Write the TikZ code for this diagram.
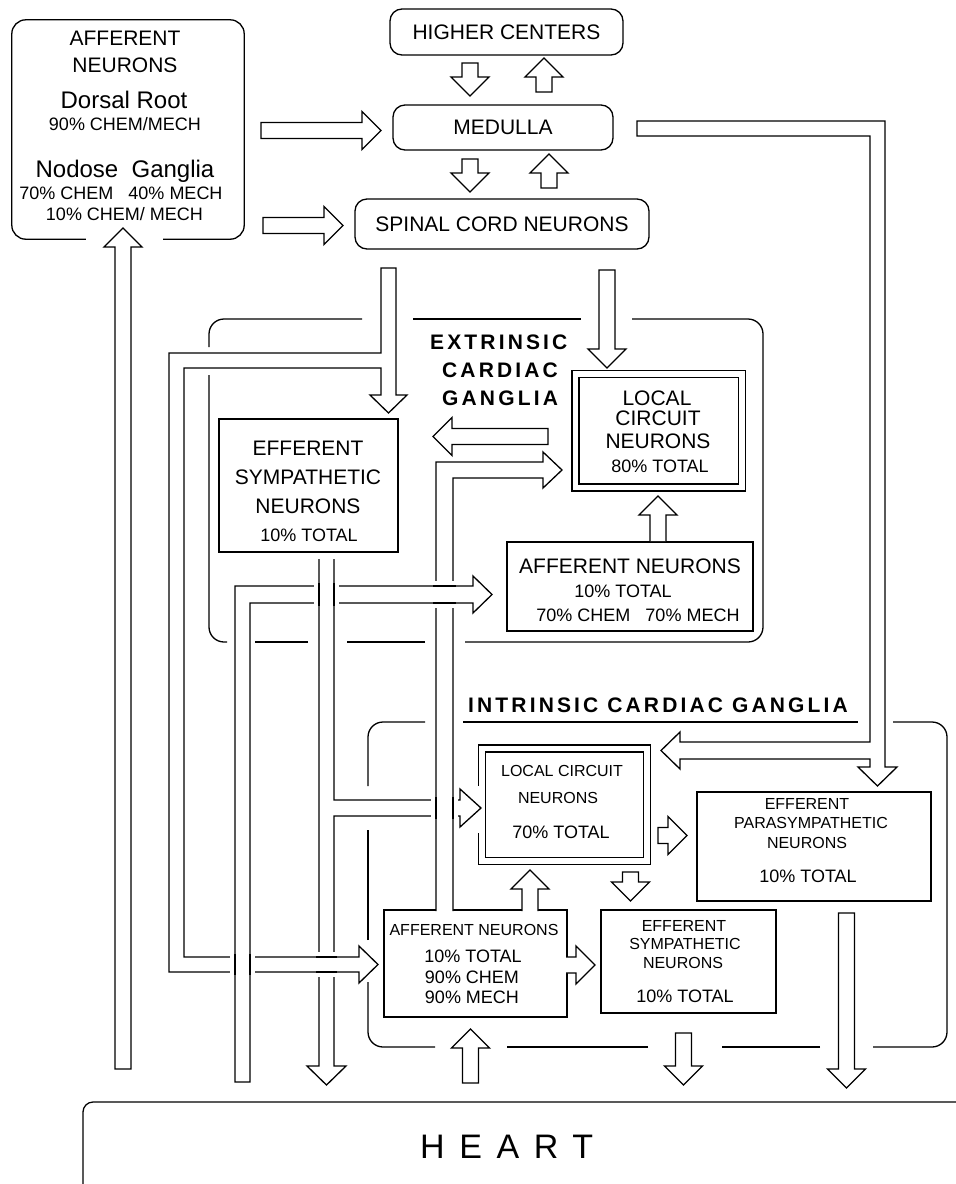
\documentclass[tikz,border=0pt]{standalone}
\usepackage{fontspec}
\setmainfont{Liberation Sans}
\usetikzlibrary{calc}

\newcommand{\lw}{1.3pt}
\newcommand{\szword}{\fontsize{21}{25}\selectfont}
\newcommand{\szlow}{\fontsize{24}{28}\selectfont}
\newcommand{\szpct}{\fontsize{18}{22}\selectfont}
\newcommand{\szsmall}{\fontsize{16}{20}\selectfont}
\newcommand{\sztitle}{\fontsize{21}{25}\selectfont\bfseries\addfontfeature{LetterSpace=15}}
\newcommand{\szheart}{\fontsize{34}{40}\selectfont\addfontfeature{LetterSpace=43}}

% hollow block arrows: [closing] {centre} {start} {tip}
\newcommand{\blockup}[4][-- cycle]{\draw[blk] (#2-8,#3) -- (#2-8,#4+19) -- (#2-19,#4+19) -- (#2,#4) -- (#2+19,#4+19) -- (#2+8,#4+19) -- (#2+8,#3) #1;}
\newcommand{\blockdown}[4][-- cycle]{\draw[blk] (#2-8,#3) -- (#2-8,#4-19) -- (#2-19,#4-19) -- (#2,#4) -- (#2+19,#4-19) -- (#2+8,#4-19) -- (#2+8,#3) #1;}
\newcommand{\blockright}[4][-- cycle]{\draw[blk] (#3,#2-8) -- (#4-19,#2-8) -- (#4-19,#2-19) -- (#4,#2) -- (#4-19,#2+19) -- (#4-19,#2+8) -- (#3,#2+8) #1;}
\newcommand{\blockleft}[4][-- cycle]{\draw[blk] (#3,#2-8) -- (#4+19,#2-8) -- (#4+19,#2-19) -- (#4,#2) -- (#4+19,#2+19) -- (#4+19,#2+8) -- (#3,#2+8) #1;}
% crossings: horizontal pair over vertical pair, and the other way round
\newcommand{\overh}[4]{\fill[white] (#3-3,#1-5) rectangle (#4+3,#2+5);
  \draw[line width=\lw] (#3-3,#1) -- (#4+3,#1) (#3-3,#2) -- (#4+3,#2);}
\newcommand{\overv}[4]{\fill[white] (#1-5,#3-3) rectangle (#2+5,#4+3);
  \draw[line width=\lw] (#1,#3-3) -- (#1,#4+3) (#2,#3-3) -- (#2,#4+3);}

\tikzset{
  box/.style={draw, line width=\lw, inner sep=0pt},
  rbox/.style={box, rounded corners=12pt},
  dbox/.style={draw, line width=\lw, double, double distance=5.8pt, inner sep=0pt},
  gang/.style={line width=\lw, rounded corners=15pt},
  blk/.style={draw, fill=white, line width=\lw, line join=miter},
  word/.style={anchor=base, inner sep=0pt, font=\szword},
  low/.style={anchor=base, inner sep=0pt, font=\szlow},
  pct/.style={anchor=base, inner sep=0pt, font=\szpct},
  sm/.style={anchor=base, inner sep=0pt, font=\szsmall},
  ttl/.style={anchor=base west, inner sep=0pt, font=\sztitle},
}

\begin{document}
\begin{tikzpicture}[x=1pt, y=-1pt]
  \useasboundingbox (0,0) rectangle (956,1184);
  \clip (0,0) rectangle (956,1184);

  % ganglion outlines, open where the arrows pass
  \draw[gang] (209,347) -- (209,319) -- (362,319);
  \draw[gang] (413,319) -- (581,319);
  \draw[gang] (632,319) -- (763,319) -- (763,642) -- (465,642);
  \draw[gang] (425,642) -- (347,642);
  \draw[gang] (308,642) -- (255,642);
  \draw[gang] (227,642) -- (209,642) -- (209,375);
  \draw[gang] (368,786) -- (368,722) -- (425,722);
  \draw[gang] (463,722) -- (858,722);
  \draw[gang] (893,722) -- (947,722) -- (947,1047) -- (873,1047);
  \draw[gang] (820,1047) -- (722,1047);
  \draw[gang] (648,1047) -- (507,1047);
  \draw[gang] (435,1047) -- (368,1047) -- (368,982);
  \draw[gang] (368,940) -- (368,830);

  % boxes
  \node[minimum width=232pt, minimum height=219pt] (aff) at (128,129.5) {};
  \draw[line width=\lw, rounded corners=14pt] ($(aff.south west)+(74,0)$) -- (aff.south west)
    -- (aff.north west) -- (aff.north east) -- (aff.south east) -- ($(aff.south east)+(-81,0)$);
  \node[rbox, minimum width=233pt, minimum height=46pt, font=\szword] (hc) at (506.5,32) {HIGHER CENTERS};
  \node[rbox, minimum width=220pt, minimum height=45pt, font=\szword] (med) at (503,127.5) {MEDULLA};
  \node[rbox, minimum width=294pt, minimum height=50pt, font=\szword] (spc) at (502,224) {SPINAL CORD NEURONS};
  \node[box, minimum width=179pt, minimum height=133pt] (eES) at (308.5,485.5) {};
  \node[box, minimum width=246pt, minimum height=89pt] (eAff) at (630,586.5) {};
  \node[dbox, minimum width=166.5pt, minimum height=113.5pt] (eLC) at (658.75,430.75) {};
  \node[dbox, minimum width=165pt, minimum height=112.5pt] (iLC) at (564.5,804.75) {};
  \node[box, minimum width=183pt, minimum height=107pt] (iAff) at (475.5,963.5) {};
  \node[box, minimum width=175pt, minimum height=103pt] (iES) at (688.5,961.5) {};
  \node[box, minimum width=234pt, minimum height=109pt] (para) at (814,846.5) {};
  \node[box, rounded corners=10pt, minimum width=897pt, minimum height=98pt] (heart) at (531.5,1151) {};

  % texts
  \node[word] (aff1) at (125,45) {AFFERENT};
  \node[word] (aff2) at (125,72) {NEURONS};
  \node[low] (aff3) at (124,108) {Dorsal Root};
  \node[pct] (aff4) at (125,130) {90\% CHEM/MECH};
  \node[low] (aff5) at (125,177) {Nodose\ \ Ganglia};
  \node[pct] (aff6) at (121,199) {70\% CHEM\ \ \ 40\% MECH};
  \node[pct] (aff7) at (124.5,220) {10\% CHEM/ MECH};

  \node[ttl] (ext1) at (430,349) {EXTRINSIC};
  \node[ttl] (ext2) at (442,377) {CARDIAC};
  \node[ttl] (ext3) at (442,405) {GANGLIA};
  \node[ttl] (int1) at (468,712) {INTRINSIC CARDIAC GANGLIA};

  \node[word] (eES1) at (308,455) {EFFERENT};
  \node[word] (eES2) at (308,484) {SYMPATHETIC};
  \node[word] (eES3) at (308,513) {NEURONS};
  \node[pct] (eES4) at (309,541) {10\% TOTAL};

  \node[word] (eLC1) at (657,405) {LOCAL};
  \node[word] (eLC2) at (658,425) {CIRCUIT};
  \node[word] (eLC3) at (658,448) {NEURONS};
  \node[pct] (eLC4) at (660,472) {80\% TOTAL};

  \node[word] (eAff1) at (630,573) {AFFERENT NEURONS};
  \node[pct] (eAff2) at (623,597) {10\% TOTAL};
  \node[pct] (eAff3) at (638,621) {70\% CHEM\ \ \ 70\% MECH};

  \node[sm] (iLC1) at (562,776) {LOCAL CIRCUIT};
  \node[sm] (iLC2) at (558,803) {NEURONS};
  \node[pct] (iLC3) at (561,838) {70\% TOTAL};

  \node[sm] (iAff1) at (474,935) {AFFERENT NEURONS};
  \node[pct] (iAff2) at (473,962) {10\% TOTAL};
  \node[pct] (iAff3) at (472,983) {90\% CHEM};
  \node[pct] (iAff4) at (472,1003) {90\% MECH};

  \node[sm] (iES1) at (684,931) {EFFERENT};
  \node[sm] (iES2) at (685,949) {SYMPATHETIC};
  \node[sm] (iES3) at (683,968) {NEURONS};
  \node[pct] (iES4) at (685,1002) {10\% TOTAL};

  \node[sm] (para1) at (807,809) {EFFERENT};
  \node[sm] (para2) at (811,828) {PARASYMPATHETIC};
  \node[sm] (para3) at (807,848) {NEURONS};
  \node[pct] (para4) at (808,882) {10\% TOTAL};

  \node[anchor=base west, inner sep=0pt, font=\szheart] (heart1) at (420,1158) {HEART};

  % straight block arrows
  \blockright{130.5}{261}{381}
  \blockright{225.5}{263}{343}
  \blockdown{470}{63}{96}
  \blockup{544}{92}{58}
  \blockdown{470}{159}{192}
  \blockup{549}{188}{154}
  \blockdown{607}{270}{368}
  \blockleft{436.5}{548}{433}
  \blockup[]{658}{541}{496}
  \blockup[]{530}{911}{870}
  \blockright[]{965}{566}{595}
  \blockdown{630.5}{872}{901}
  \blockright{835.5}{658}{687}
  \blockdown{846.5}{913}{1088}
  \blockdown{683.5}{1033}{1085}
  \blockup{470.5}{1083}{1029}
  \blockup{123}{1069}{228}

  % routed block arrows
  \draw[blk] (381,268) -- (396,268) -- (396,395) -- (407,395) -- (388.5,413) -- (370,395)
    -- (381,395) -- (381,368) -- (184,368) -- (184,957) -- (359,957) -- (359,946)
    -- (378,964.5) -- (359,983) -- (359,972) -- (169,972) -- (169,353) -- (381,353) -- cycle;
  \draw[blk] (235,1082) -- (235,586) -- (473,586) -- (473,576) -- (492,594.5) -- (473,613)
    -- (473,603) -- (250,603) -- (250,1082) -- cycle;
  \fill[white] (475,786) rectangle (481,833);
  \draw[blk] (319,559) -- (319,1066) -- (307,1066) -- (326.5,1085) -- (346,1066) -- (334,1066)
    -- (334,816) -- (460,816) -- (460,827) -- (481,808) -- (460,789) -- (460,800) -- (334,800) -- (334,559);
  \draw[blk] (453,911) -- (453,478) -- (543,478) -- (543,488) -- (562,470) -- (543,452)
    -- (543,462) -- (436,462) -- (436,911);
  \draw[blk] (637,121) -- (885,121) -- (885,767) -- (897,767) -- (877.5,786) -- (858,767)
    -- (870,767) -- (870,759) -- (680,759) -- (680,769) -- (661,750.5) -- (680,732)
    -- (680,742) -- (870,742) -- (870,136) -- (637,136) -- cycle;

  % crossings
  \overh{586}{603}{436}{453}
  \overv{319}{334}{586}{603}
  \overh{957}{972}{319}{334}
  \overv{235}{250}{957}{972}
  \overv{436}{453}{800}{816}
\end{tikzpicture}
\end{document}
